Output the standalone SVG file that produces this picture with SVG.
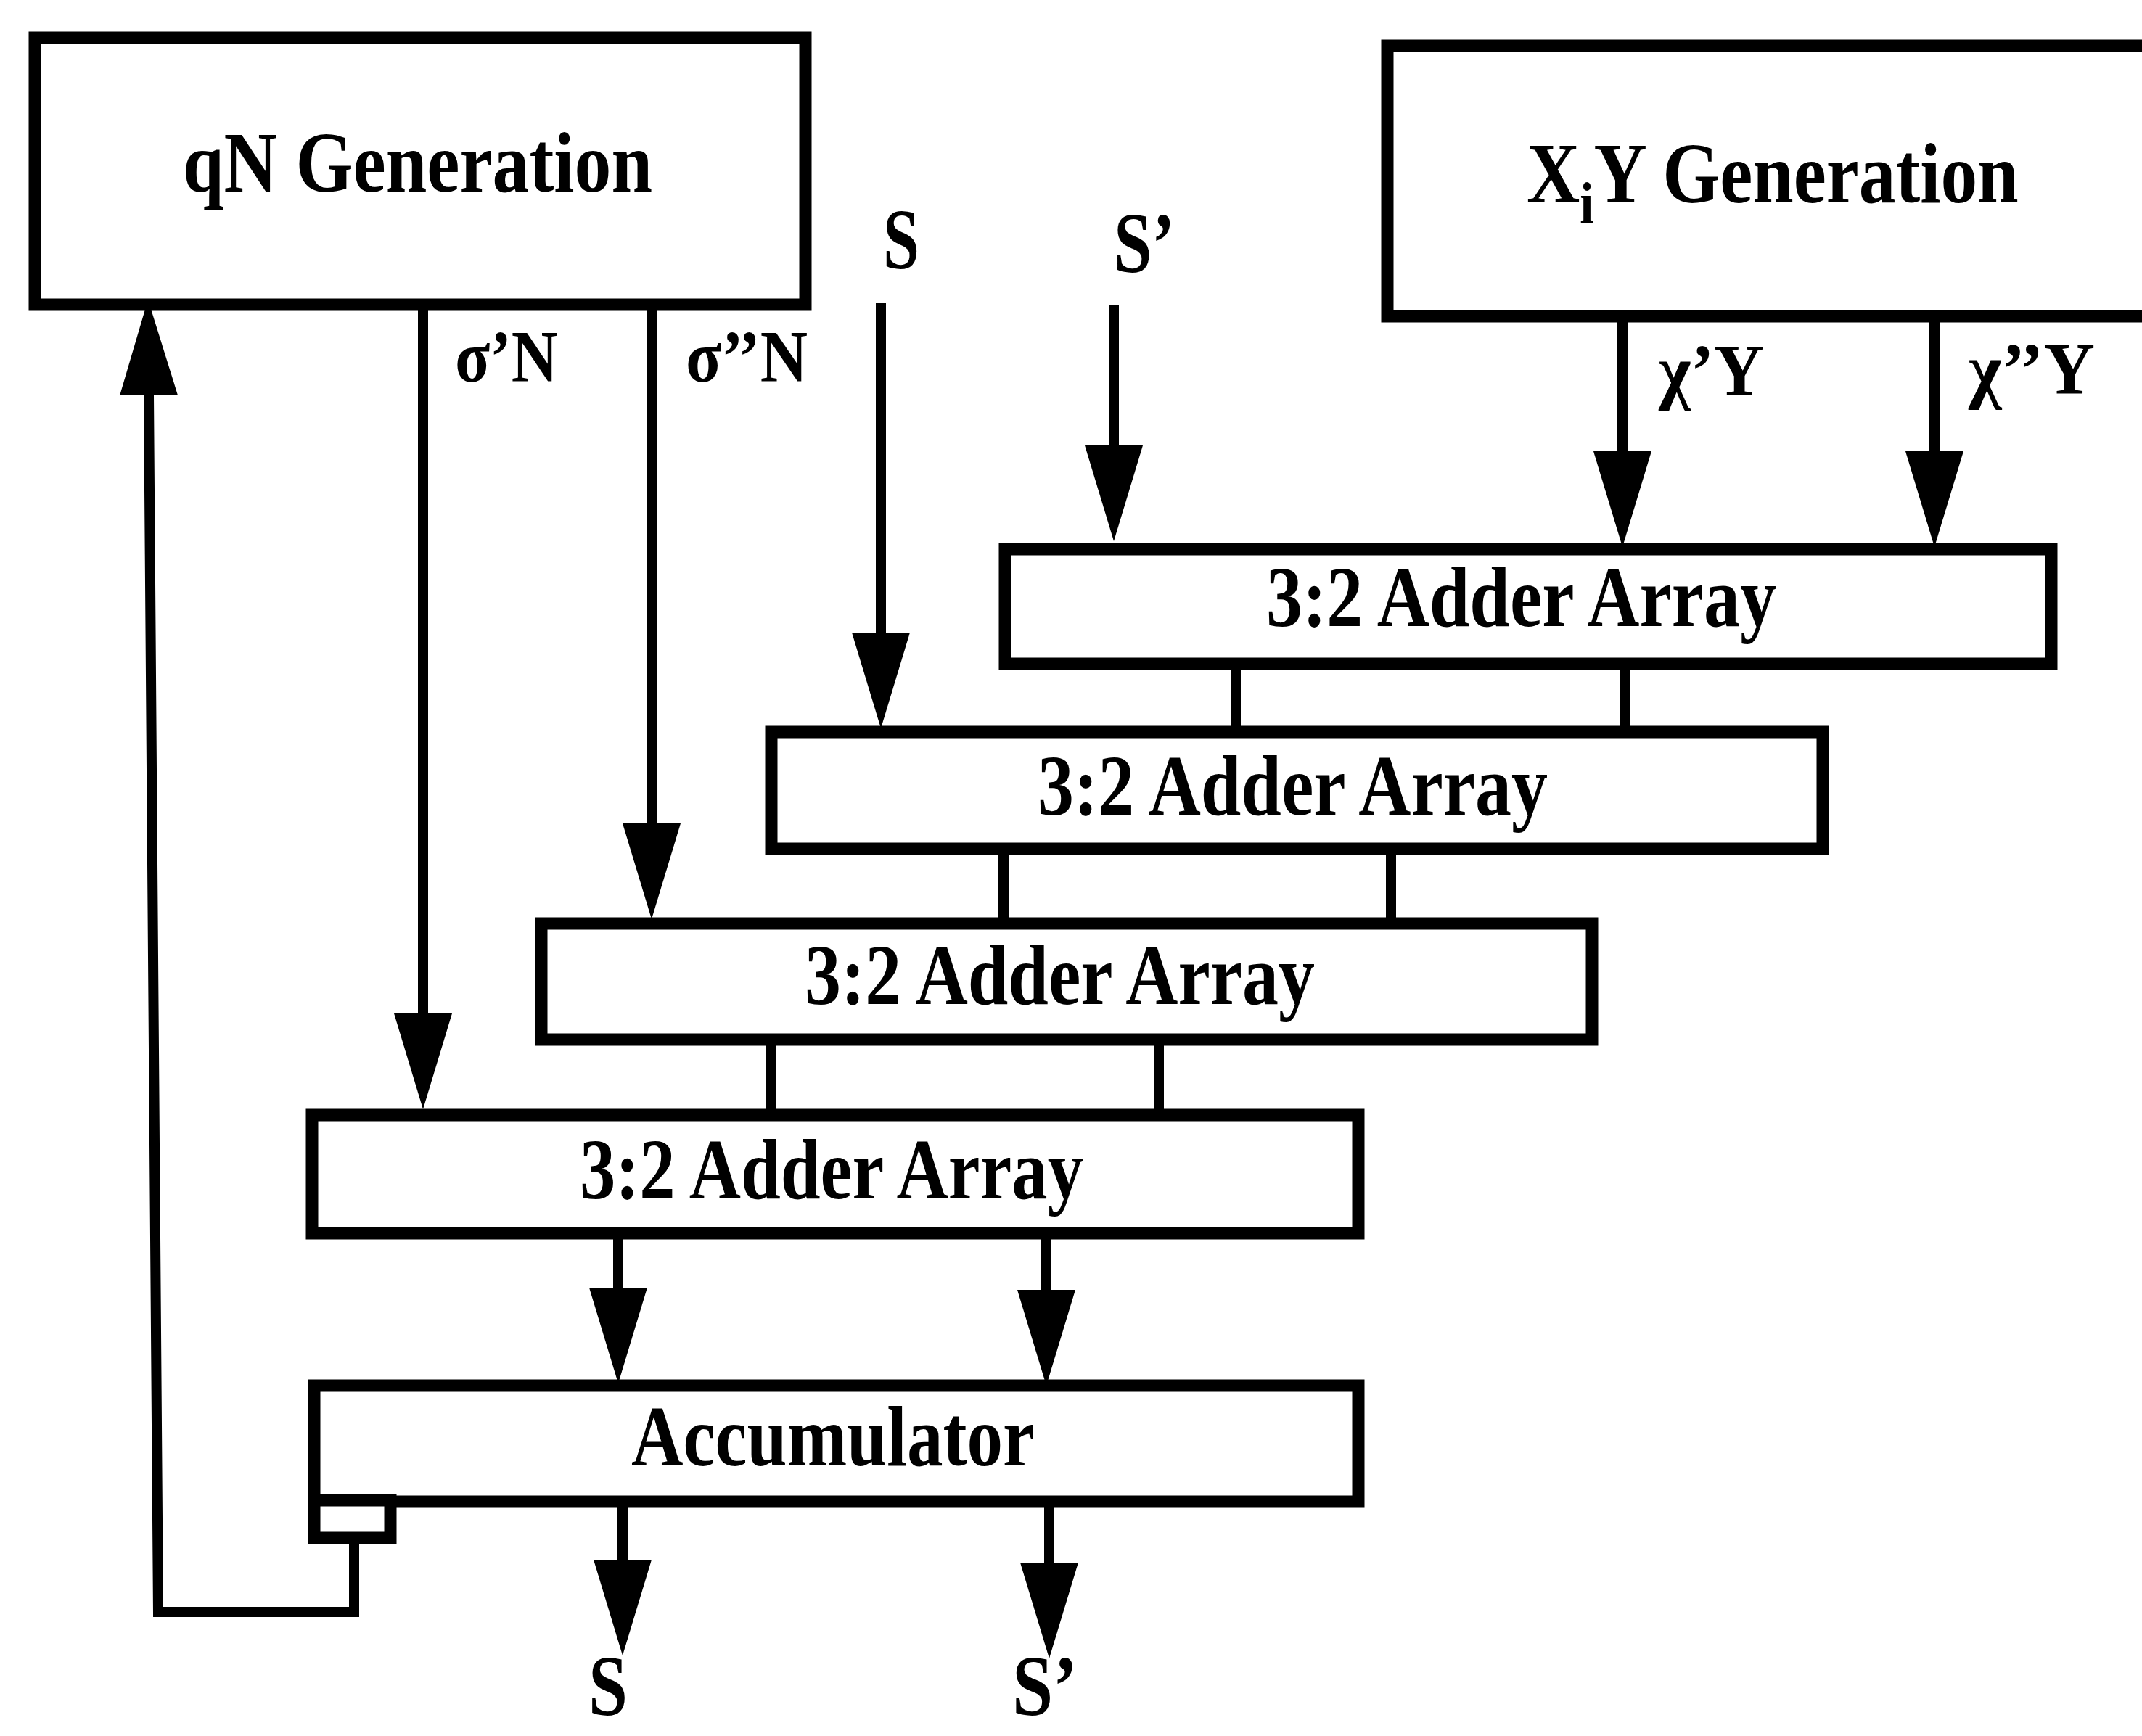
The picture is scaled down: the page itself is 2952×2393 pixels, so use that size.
<svg xmlns="http://www.w3.org/2000/svg" width="2952" height="2393" viewBox="0 0 2952 2393">
<style>
.box{fill:#fff;stroke:#000;stroke-width:17}
.ln{fill:none;stroke:#000;stroke-width:14}
.t{font-family:"Liberation Serif","Times New Roman",serif;font-weight:bold;fill:#000}
.big{font-size:118px}
.lab{font-size:102px}
</style>
<defs>
<marker id="ah" markerUnits="userSpaceOnUse" markerWidth="135" markerHeight="84" viewBox="0 -42 135 84" refX="0" refY="0" orient="auto">
<path d="M0,-40 L132,0 L0,40 Z" fill="#000"/>
</marker>
</defs>
<rect width="2952" height="2393" fill="#fff"/>

<g id="qn-gen">
<rect class="box" x="48" y="52" width="1062" height="368"/>
<text class="t big" x="252" y="264" textLength="647" lengthAdjust="spacingAndGlyphs">qN Generation</text>
</g>

<g id="xy-gen">
<rect class="box" x="1912" y="63" width="1100" height="373"/>
<text class="t big" transform="translate(2104,279) scale(0.86,1)">X<tspan dy="28" font-size="80">i</tspan><tspan dy="-28">Y Generation</tspan></text>
</g>

<g id="adder1">
<rect class="box" x="1385" y="757" width="1442" height="158"/>
<text class="t big" x="1745" y="863" textLength="703" lengthAdjust="spacingAndGlyphs">3:2 Adder Array</text>
</g>

<g id="adder2">
<rect class="box" x="1063" y="1009" width="1449" height="161"/>
<text class="t big" x="1430" y="1123" textLength="703" lengthAdjust="spacingAndGlyphs">3:2 Adder Array</text>
</g>

<g id="adder3">
<rect class="box" x="746" y="1273" width="1448" height="160"/>
<text class="t big" x="1109" y="1384" textLength="703" lengthAdjust="spacingAndGlyphs">3:2 Adder Array</text>
</g>

<g id="adder4">
<rect class="box" x="430" y="1537" width="1442" height="163"/>
<text class="t big" x="799" y="1652" textLength="694" lengthAdjust="spacingAndGlyphs">3:2 Adder Array</text>
</g>

<g id="accumulator">
<rect class="box" x="433" y="1910" width="1439" height="160"/>
<rect class="box" x="433" y="2068" width="105" height="52" stroke-width="14"/>
<text class="t big" x="870" y="2020" textLength="556" lengthAdjust="spacingAndGlyphs">Accumulator</text>
</g>

<g id="connectors">
<path class="ln" d="M488,2120 V2222 H218 L205,545" marker-end="url(#ah)"/>
<path class="ln" d="M583,420 V1397" marker-end="url(#ah)"/>
<path class="ln" d="M898,420 V1135" marker-end="url(#ah)"/>
<path class="ln" d="M1214,418 V872" marker-end="url(#ah)"/>
<path class="ln" d="M1535,421 V614" marker-end="url(#ah)"/>
<path class="ln" d="M2236,436 V622" marker-end="url(#ah)"/>
<path class="ln" d="M2666,436 V622" marker-end="url(#ah)"/>
<path class="ln" d="M1703,915 V1009 M2239,915 V1009"/>
<path class="ln" d="M1383,1170 V1273 M1917,1170 V1273"/>
<path class="ln" d="M1062,1433 V1537 M1597,1433 V1537"/>
<path class="ln" d="M852,1700 V1775" marker-end="url(#ah)"/>
<path class="ln" d="M1442,1700 V1778" marker-end="url(#ah)"/>
<path class="ln" d="M858,2070 V2150" marker-end="url(#ah)"/>
<path class="ln" d="M1446,2070 V2154" marker-end="url(#ah)"/>
</g>

<g id="labels">
<text class="t lab" x="627" y="526" textLength="142" lengthAdjust="spacingAndGlyphs">σ’N</text>
<text class="t lab" x="945" y="526" textLength="168" lengthAdjust="spacingAndGlyphs">σ’’N</text>
<text class="t big" x="1217" y="370" textLength="50" lengthAdjust="spacingAndGlyphs">S</text>
<text class="t big" x="1535" y="375" textLength="84" lengthAdjust="spacingAndGlyphs">S’</text>
<text class="t lab" x="2286" y="545" textLength="145" lengthAdjust="spacingAndGlyphs">χ’Y</text>
<text class="t lab" x="2713" y="543" textLength="174" lengthAdjust="spacingAndGlyphs">χ’’Y</text>
<text class="t big" x="811" y="2364" textLength="54" lengthAdjust="spacingAndGlyphs">S</text>
<text class="t big" x="1395" y="2364" textLength="90" lengthAdjust="spacingAndGlyphs">S’</text>
</g>
</svg>
